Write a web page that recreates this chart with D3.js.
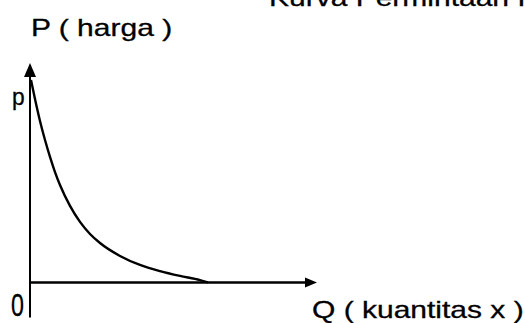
<!DOCTYPE html>
<html>
<head>
<meta charset="utf-8">
<script src="https://cdn.jsdelivr.net/npm/d3@7/dist/d3.min.js"></script>
<style>
  html, body { margin: 0; padding: 0; background: #fff; overflow: hidden; }
  svg { display: block; }
  text { font-family: "Liberation Sans", Arial, sans-serif; fill: #000; }
</style>
</head>
<body>
<svg id="chart" width="525" height="323"></svg>
<script>
// Data: demand curve (quantity Q vs price P)
const quantity = [0.035, 0.174, 0.348, 0.523, 0.697, 0.871, 1.045, 1.394, 1.742, 2.091, 2.439, 3.136, 3.833, 4.530, 5.226, 5.923, 6.202];
const price    = [9.23, 8.36, 7.36, 6.49, 5.72, 5.03, 4.44, 3.49, 2.76, 2.21, 1.80, 1.21, 0.80, 0.52, 0.30, 0.11, 0.00];
const titleText = "Kurva Permintaan Individu";
const yAxisLabel = "P ( harga )";
const xAxisLabel = "Q ( kuantitas x )";
const yTickLabel = "p";
const originLabel = "0";

const svg = d3.select("#chart");
const x = d3.scaleLinear().domain([0, 10]).range([30, 317]);
const y = d3.scaleLinear().domain([0, 10]).range([282.5, 63]);

// Axes
svg.append("line")
  .attr("x1", x(0)).attr("x2", x(0))
  .attr("y1", y(0) + 35).attr("y2", y(9.4))
  .attr("stroke", "#000").attr("stroke-width", 2);
svg.append("line")
  .attr("x1", x(0)).attr("x2", x(9.6))
  .attr("y1", y(0)).attr("y2", y(0))
  .attr("stroke", "#000").attr("stroke-width", 2.4);

// Arrow heads
svg.append("path")
  .attr("d", `M${x(0)},${y(10)} L${x(0) - 6},${y(10) + 14} L${x(0) + 6},${y(10) + 14} Z`)
  .attr("fill", "#000");
svg.append("path")
  .attr("d", `M${x(10)},${y(0)} L${x(10) - 12},${y(0) - 5} L${x(10) - 12},${y(0) + 5} Z`)
  .attr("fill", "#000");

// Demand curve
const pts = quantity.map((q, i) => [q, price[i]]);
const line = d3.line()
  .x(d => x(d[0]))
  .y(d => y(d[1]))
  .curve(d3.curveMonotoneX);
svg.append("path")
  .datum(pts)
  .attr("d", line)
  .attr("fill", "none")
  .attr("stroke", "#000")
  .attr("stroke-width", 2.4);

// Texts (horizontally stretched like the source scan)
function stretchedText(str, px, py, size, sx, sy) {
  svg.append("text")
    .attr("transform", `translate(${px},${py}) scale(${sx},${sy})`)
    .attr("font-size", size)
    .attr("stroke", "#000")
    .attr("stroke-width", 0.3)
    .text(str);
}
stretchedText(titleText, 269, 6, 24, 1.25, 1);
stretchedText(yAxisLabel, 31, 36, 24, 1.25, 1);
stretchedText(xAxisLabel, 312, 318, 24, 1.25, 1);
stretchedText(yTickLabel, 12, 105, 24, 0.95, 1);
stretchedText(originLabel, 11, 316, 31, 0.75, 1);
</script>
</body>
</html>
